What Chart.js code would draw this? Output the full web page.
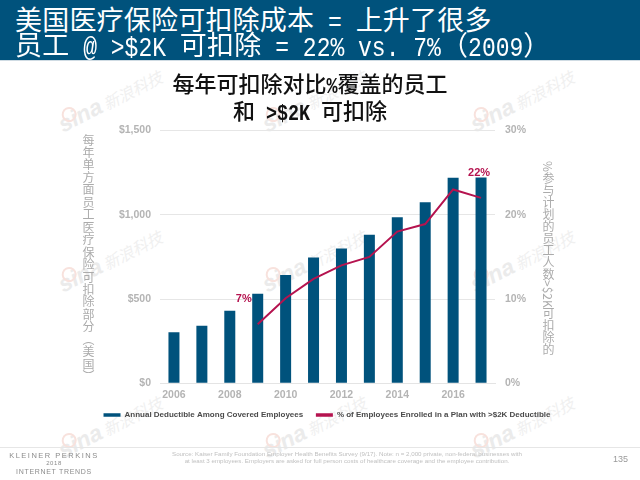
<!DOCTYPE html>
<html><head><meta charset="utf-8">
<script src="https://cdn.jsdelivr.net/npm/chart.js@4"></script>
<style>
html,body{margin:0;padding:0;background:#fff;width:640px;height:480px;overflow:hidden}
body{position:relative;font-family:"Liberation Sans",sans-serif}
#hdr{position:absolute;left:0;top:0;width:640px;height:60px;background:#00527C;border-bottom:1px solid #cfdbe3}
.hl{position:absolute;left:15px;color:#fff;font:400 27px/30px "Noto Sans CJK SC";letter-spacing:.2px;white-space:pre}
.hl i{display:inline-block;font:400 23px/30px "Liberation Mono";font-style:normal;letter-spacing:0;transform:scaleY(1.2);white-space:pre}
canvas{position:absolute;left:0;top:0}
.ttl{position:absolute;left:110px;width:400px;height:27px;text-align:center;color:#111;font:500 22px/27px "Noto Sans CJK SC";white-space:pre}
.ttl i{display:inline-block;font:700 18.4px/27px "Liberation Mono";font-style:normal;transform:scaleY(1.2);white-space:pre}
.vt{position:absolute;writing-mode:vertical-rl;color:#ababab;font:400 12px/14px "Noto Sans CJK SC";white-space:nowrap}
.wm{position:absolute;transform:rotate(-27deg);transform-origin:left bottom;white-space:nowrap;color:#f0f0f0}
.wm b{font:italic 700 23px "Liberation Sans";color:#ebebeb}
.wm span{font:italic 400 16px "Noto Sans CJK SC";margin-left:3px}
.wm u{position:absolute;left:6px;top:0px;width:11px;height:11px;border:2px solid #f8e2dd;border-radius:50%}
#fl{position:absolute;left:0;top:447px;width:640px;height:1px;background:#e6e6e6}
.kp{position:absolute;left:0;width:108px;text-align:center;color:#8c8c8c;white-space:nowrap}
#src{position:absolute;left:147px;top:450px;width:400px;text-align:center;color:#c0c0c0;font:6.2px/7.4px "Liberation Sans";white-space:nowrap}
#pg{position:absolute;left:613px;top:454px;color:#9a9a9a;font:9px "Liberation Sans"}
</style></head><body>
<div id="wms"></div>
<canvas id="c" width="640" height="480"></canvas>
<div id="hdr">
<div class="hl" style="top:4px">美国医疗保险可扣除成本<i> = </i>上升了很多</div>
<div class="hl" style="top:29px">员工<i> @ &gt;$2K </i>可扣除<i> = 22% vs. 7%</i>（<i>2009</i>）</div>
</div>
<div class="ttl" style="top:69px">每年可扣除对比<i>%</i>覆盖的员工</div>
<div class="ttl" style="top:96px">和<i> &gt;$2K </i>可扣除</div>
<div class="vt" style="left:81px;top:134px;letter-spacing:.45px">每年单方面员工医疗保险可扣除部分（美国）</div>
<div class="vt" style="left:541px;top:161px">%参与计划的员工人数&gt;$2K可扣除的</div>
<div id="fl"></div>
<div class="kp" style="top:451px;font-size:7.5px;letter-spacing:1.5px">KLEINER PERKINS</div>
<div class="kp" style="top:460px;font-size:6px;letter-spacing:.6px">2018</div>
<div class="kp" style="top:468px;font-size:7px;letter-spacing:.7px">INTERNET TRENDS</div>
<div id="src">Source: Kaiser Family Foundation Employer Health Benefits Survey (9/17).  Note: n = 2,000 private, non-federal businesses with<br>at least 3 employees. Employers are asked for full person costs of healthcare coverage and the employee contribution.</div>
<div id="pg">135</div>
<script>
const years = ['2006','2007','2008','2009','2010','2011','2012','2013','2014','2015','2016','2017'];
const deductible = [303,342,431,531,643,746,800,882,985,1074,1219,1221];
const pctEnrolled = [null,null,null,7,10.1,12.4,14,15,18,18.9,23,22];
const leftTicks = {0:'$0',500:'$500',1000:'$1,000',1500:'$1,500'};
const pointLabels = [{i:3,text:'7%',dx:-14,dy:-25},{i:11,text:'22%',dx:-2,dy:-25}];
const barName = 'Annual Deductible Among Covered Employees   ';
const lineName = '% of Employees Enrolled in a Plan with >$2K Deductible';
const NAVY = '#00527C', RED = '#B5134F', GREY = '#b4b4b4';

const wms = document.getElementById('wms');
[66,270,478].forEach(x=>[129,289,455].forEach(y=>{
  const d=document.createElement('div');d.className='wm';
  d.style.left=x+'px';d.style.top=(y-18)+'px';
  d.innerHTML='<u></u><b>sina</b><span>新浪科技</span>';wms.appendChild(d);
}));

const labelPlugin = {id:'labels',afterDatasetsDraw(ch){
  const {ctx,scales}=ch;ctx.save();ctx.font='bold 11px "Liberation Sans"';ctx.fillStyle=RED;ctx.textAlign='center';ctx.textBaseline='middle';
  pointLabels.forEach(p=>ctx.fillText(p.text,scales.x.getPixelForValue(p.i)+p.dx,scales.y2.getPixelForValue(pctEnrolled[p.i])+p.dy));
  ctx.restore();
}};
new Chart(document.getElementById('c'),{
  type:'bar',
  plugins:[labelPlugin],
  data:{labels:years,datasets:[
    {type:'line',label:lineName,data:pctEnrolled,yAxisID:'y2',borderColor:RED,backgroundColor:RED,borderWidth:2,pointRadius:0,tension:0,order:1,spanGaps:false},
    {type:'bar',label:barName,data:deductible,yAxisID:'y',backgroundColor:NAVY,borderWidth:0,categoryPercentage:1,barPercentage:0.394,order:2}
  ]},
  options:{
    responsive:false,animation:false,
    layout:{padding:{top:130.5,bottom:51,left:14,right:0}},
    plugins:{
      title:{display:false},
      legend:{position:'bottom',reverse:true,labels:{boxWidth:17,boxHeight:3.5,color:'#4a4a4a',font:{family:'"Liberation Sans"',size:8,weight:'bold'},padding:6,
        generateLabels(ch){const items=Chart.defaults.plugins.legend.labels.generateLabels(ch);items.forEach(it=>{it.lineWidth=0});return items}}},
      tooltip:{enabled:false}
    },
    scales:{
      x:{afterFit(s){s.height=21.7},grid:{display:false,drawTicks:false},border:{color:'#e4e4e4'},ticks:{autoSkip:false,maxRotation:0,color:GREY,padding:6,font:{family:'"Liberation Sans"',size:10.5,weight:'bold'},callback(v,i){return i%2===0?years[i]:''}}},
      y:{position:'left',min:0,max:1500,afterFit(s){s.width=146},grid:{color:'#e6e6e6',drawTicks:false},border:{display:false},ticks:{stepSize:500,padding:9,color:GREY,font:{family:'"Liberation Sans"',size:10.5,weight:'bold'},callback(v){return leftTicks[v]}}},
      y2:{position:'right',min:0,max:30,afterFit(s){s.width=145},grid:{display:false,drawTicks:false},border:{display:false},ticks:{stepSize:10,padding:10,color:GREY,font:{family:'"Liberation Sans"',size:10.5,weight:'bold'},callback(v){return v+'%'}}}
    }
  }
});
</script>
</body></html>
